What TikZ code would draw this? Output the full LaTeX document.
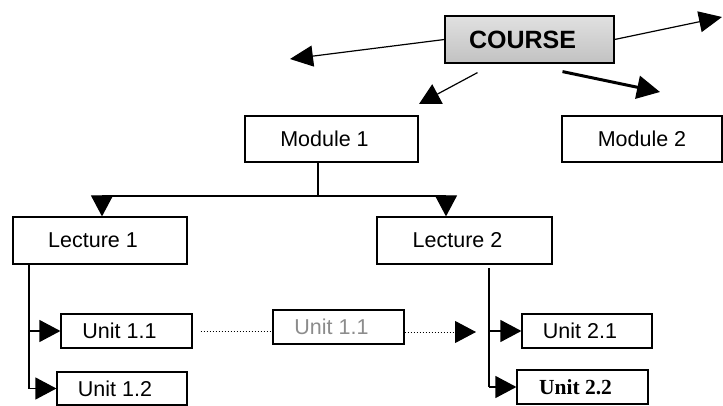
\documentclass[tikz,border=0pt]{standalone}
\usepackage{fontspec}
\setmainfont{Liberation Sans}
\newfontfamily\timesfont{Liberation Serif}
\usetikzlibrary{arrows.meta}
\usetikzlibrary{positioning}

\begin{document}
\begin{tikzpicture}[
        x=1pt, y=-1pt,
        line width=1.2pt,
        %
        box node/.style={
            rectangle,
            draw,
            inner sep=0pt,
            font=\fontsize{21.5}{24}\selectfont,
            align=center,
        },
        %
        shift text/.style={execute at end node={\hspace{14pt}}},
        %
        course node/.style={
            box node,
            shade,
            top color=black!12,
            bottom color=black!24,
            minimum width=169pt,
            minimum height=47pt,
            font=\fontsize{25}{28}\selectfont\bfseries,
        },
        unit node/.style={box node, minimum width=131pt, minimum height=34pt},
        big edge/.style={-{Triangle[length=23pt,width=21pt]}},
        normal edge/.style={-{Triangle[length=21pt,width=22pt]}},
        thick edge/.style={-{Triangle[length=23pt,width=23pt]}, line width=3pt},
        dot edge/.style={dotted, line width=1pt}
        ]

        \useasboundingbox (0,0) rectangle (723,406);

        % Vertices

        \node[course node, shift text] (course) at (529.5,39.5) {COURSE};
        \node[box node, shift text, minimum width=173pt, minimum height=46pt] (mod1) at (331.5,139) {Module 1};
        \node[box node, minimum width=160pt, minimum height=46pt] (mod2) at (642,139) {Module 2};
        \node[box node, shift text, minimum width=174pt, minimum height=47pt] (lec1) at (100,240.5) {Lecture 1};
        \node[box node, shift text, minimum width=175pt, minimum height=47pt] (lec2) at (464.5,240.5) {Lecture 2};
        \node[unit node, shift text] (u11) at (126.5,331) {Unit 1.1};
        \node[unit node, shift text, minimum width=130pt, minimum height=33pt] (u12) at (122,388.5) {Unit 1.2};
        \node[unit node, shift text, text=black!45] (ux) at (338.5,327) {Unit 1.1};
        \node[unit node, shift text, minimum width=130pt] (u21) at (587,331) {Unit 2.1};
        \node[unit node, shift text, font=\fontsize{21.5}{24}\timesfont\bfseries] (u22) at (582.5,387) {Unit 2.2};

        % free ends
        \coordinate (cl) at (290,59);
        \coordinate (cr) at (722,17);
        \coordinate (cd1) at (419,104);
        \coordinate (cd2) at (660,92);
        \coordinate (split) at (318,196);
        \coordinate (b1) at (102,196);
        \coordinate (b2) at (446,196);
        \coordinate (l1) at (29,264);
        \coordinate (l2) at (489,268);
        \coordinate (dx) at (476,332);

        % Edges

        \draw[big edge] (course.west) to (cl);
        \draw[big edge] (course.east) to (cr);
        \draw[normal edge] ([xshift=-52pt,yshift=-9pt]course.south) to (cd1);
        \draw[thick edge] ([xshift=33pt,yshift=-8pt]course.south) to (cd2);
        %
        \draw (mod1.south -| split) to (split);
        \draw (b1) to (b2);
        \draw[normal edge] (b1) to (b1 |- lec1.north);
        \draw[normal edge] (b2) to (b2 |- lec2.north);
        %
        \draw (l1) to (l1 |- u12.west);
        \draw[normal edge] (l1 |- u11.west) to (u11.west);
        \draw[normal edge] (l1 |- u12.west) to (u12.west);
        %
        \draw (l2) to (l2 |- u22.west);
        \draw[normal edge] (l2 |- u21.west) to (u21.west);
        \draw[normal edge] (l2 |- u22.west) to (u22.west);
        %
        \draw[dot edge, shorten <=8pt] (u11.east) to (ux.west |- u11.east);
        \draw[dot edge, normal edge] (ux.east |- dx) to (dx);
        %
\end{tikzpicture}
\end{document}
